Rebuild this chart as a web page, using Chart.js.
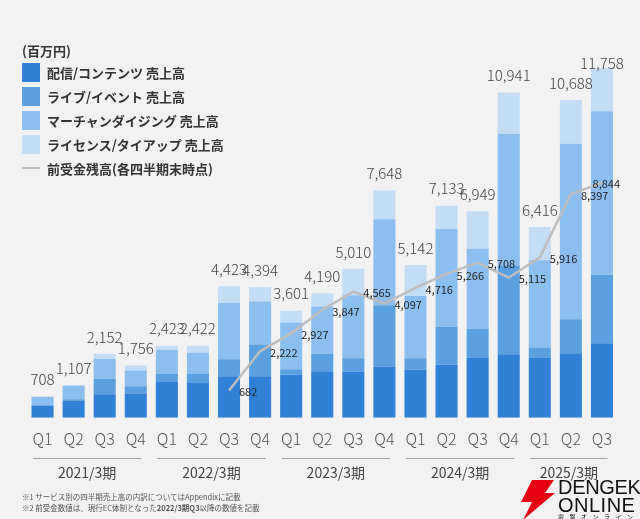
<!DOCTYPE html>
<html lang="ja">
<head>
<meta charset="utf-8">
<script src="https://cdn.jsdelivr.net/npm/chart.js@4"></script>
<style>
  html, body { margin: 0; padding: 0; background: #f2f2f2; }
  .wrap { position: relative; width: 640px; height: 519px; overflow: hidden; font-family: "Noto Sans CJK JP", "Noto Sans", sans-serif; }
  canvas { position: absolute; left: 0; top: 0; }
  .legend { position: absolute; left: 22px; top: 41px; color: #333; font-size: 13px; font-weight: 700; }
  .legend .unit { height: 19px; line-height: 19px; }
  .legend .item { display: flex; align-items: center; height: 24px; }
  .legend .box { width: 18px; height: 19px; margin-right: 7px; }
  .legend .dash { width: 18px; height: 2px; background: #bdbdbd; margin-right: 7px; }
  .notes { position: absolute; left: 22px; top: 491px; font-size: 7.5px; color: #555; line-height: 11px; }
  .logo { position: absolute; left: 519px; top: 478px; width: 121px; height: 41px; }
  .logo svg { position: absolute; left: 0; top: 2px; }
  .logo .t { position: absolute; left: 39px; font-family: "Liberation Sans", sans-serif; color: #111; white-space: nowrap; }
</style>
</head>
<body>
<div class="wrap">
  <canvas id="chart" width="640" height="519"></canvas>
  <div class="legend" id="legend"></div>
  <div class="notes">
    <div>※1 サービス別の四半期売上高の内訳についてはAppendixに記載</div>
    <div>※2 前受金数値は、現行EC体制となった<b>2022/3期Q3</b>以降の数値を記載</div>
  </div>
  <div class="logo">
    <svg width="38" height="40" viewBox="0 0 38 40"><polygon points="13,0 35,0 26,13 36,13 4,40 13,22 2,22" fill="#e60012"/></svg>
    <div class="t" style="top:-2px;font-size:20px;letter-spacing:-0.3px;">DENGEKI</div>
    <div class="t" style="top:16px;font-size:20px;letter-spacing:0.5px;">ONLINE</div>
    <div class="t" style="top:34px;font-size:6px;letter-spacing:5.5px;font-family:'Noto Sans CJK JP';">電撃オンライン</div>
  </div>
</div>
<script>
// quarters and fiscal years (百万円)
const quarters = ['Q1','Q2','Q3','Q4','Q1','Q2','Q3','Q4','Q1','Q2','Q3','Q4','Q1','Q2','Q3','Q4','Q1','Q2','Q3'];
const fiscalYears = ['2021/3期','2022/3期','2023/3期','2024/3期','2025/3期'];
const quartersPerYear = [4, 4, 4, 4, 3];

// revenue by service
const contentSales = [410, 580, 790, 815, 1205, 1172, 1400, 1400, 1445, 1565, 1560, 1725, 1615, 1783, 2032, 2140, 2030, 2170, 2507];
const liveSales = [0, 40, 525, 248, 280, 302, 565, 1068, 188, 590, 445, 2060, 390, 1282, 960, 2985, 335, 1145, 2306];
const merchSales = [298, 450, 670, 525, 793, 714, 1900, 1447, 1568, 1590, 2115, 2895, 2092, 3288, 2697, 4425, 2935, 5900, 5495];
const licenseSales = [0, 37, 167, 168, 145, 234, 558, 479, 400, 445, 890, 968, 1045, 780, 1260, 1391, 1116, 1473, 1450];

// advance receipts at quarter end (from 2022/3 Q3)
const advanceReceipts = [null, null, null, null, null, null, 682, 2222, 2927, 3847, 4565, 4097, 4716, 5266, 5708, 5115, 5916, 8397, 8844];

const seriesNames = ['配信/コンテンツ 売上高', 'ライブ/イベント 売上高', 'マーチャンダイジング 売上高', 'ライセンス/タイアップ 売上高'];
const seriesColors = ['#2f80d6', '#5a9fe0', '#8cbff0', '#c4ddf6'];
const lineName = '前受金残高(各四半期末時点)';
const lineColor = '#bdbdbd';

const labelFont = '"Noto Sans CJK JP", "Noto Sans", sans-serif';
const fmt = v => v.toLocaleString('en-US');

/**
 * Draws totals above bars, receipts next to the line and fiscal year groups under the axis.
 */
const annotations = {
    id: 'annotations',
    afterDatasetsDraw(chart) {
        const ctx = chart.ctx;
        const xScale = chart.scales.x;
        const topMeta = chart.getDatasetMeta(4);
        const lineMeta = chart.getDatasetMeta(0);

        ctx.save();
        // bar totals
        ctx.font = '300 15px ' + labelFont;
        ctx.fillStyle = '#444';
        ctx.textAlign = 'center';
        ctx.textBaseline = 'middle';
        topMeta.data.forEach((bar, i) => {
            const total = contentSales[i] + liveSales[i] + merchSales[i] + licenseSales[i];
            ctx.fillText(fmt(total), bar.x, Math.max(bar.y - 17, 63));
        });

        // receipt labels
        ctx.font = '11px ' + labelFont;
        ctx.fillStyle = '#222';
        ctx.textAlign = 'left';
        lineMeta.data.forEach((pt, i) => {
            const v = advanceReceipts[i];
            if (v === null) return;
            const text = fmt(v);
            const w = ctx.measureText(text).width;
            let x = pt.x + 10;
            if (x + w > 620) x = 620 - w;
            ctx.fillText(text, x, pt.y + 1.5);
        });

        // fiscal year groups
        const half = (xScale.getPixelForValue(1) - xScale.getPixelForValue(0)) / 2;
        let start = 0;
        ctx.font = '14px ' + labelFont;
        ctx.fillStyle = '#444';
        ctx.textAlign = 'center';
        ctx.strokeStyle = '#a0a0a0';
        ctx.lineWidth = 1;
        fiscalYears.forEach((year, g) => {
            const end = start + quartersPerYear[g] - 1;
            const x1 = xScale.getPixelForValue(start) - half + 6;
            const x2 = xScale.getPixelForValue(end) + half - 10;
            ctx.beginPath();
            ctx.moveTo(x1, 458.5);
            ctx.lineTo(x2, 458.5);
            ctx.stroke();
            ctx.fillText(year, (x1 + x2) / 2, 473);
            start = end + 1;
        });
        ctx.restore();
    }
};

const barSets = [contentSales, liveSales, merchSales, licenseSales].map((data, i) => ({
    type: 'bar',
    label: seriesNames[i],
    data: data,
    backgroundColor: seriesColors[i],
    yAxisID: 'y',
    order: 1,
    barPercentage: 0.71,
    categoryPercentage: 1
}));

new Chart(document.getElementById('chart'), {
    data: {
        labels: quarters,
        datasets: [{
            type: 'line',
            label: lineName,
            data: advanceReceipts,
            borderColor: lineColor,
            borderWidth: 2.5,
            pointRadius: 0,
            tension: 0,
            yAxisID: 'y2',
            order: 0
        }].concat(barSets)
    },
    options: {
        responsive: false,
        animation: false,
        layout: { padding: { left: 27, right: 22.5, top: 40, bottom: 58 } },
        plugins: { legend: { display: false }, tooltip: { enabled: false } },
        scales: {
            x: {
                stacked: true,
                grid: { display: false, drawTicks: false },
                border: { display: false },
                ticks: { color: '#555', font: { family: labelFont, size: 16, weight: '300' }, padding: 12 }
            },
            y: { stacked: true, display: false, min: 0, max: 12705 },
            y2: { display: false, min: -390.6, max: 14453 }
        }
    },
    plugins: [annotations]
});

// legend as page text
const legend = document.getElementById('legend');
legend.innerHTML = '<div class="unit">(百万円)</div>' +
    seriesNames.map((n, i) => `<div class="item"><span class="box" style="background:${seriesColors[i]}"></span>${n}</div>`).join('') +
    `<div class="item"><span class="dash"></span>${lineName}</div>`;
</script>
</body>
</html>
